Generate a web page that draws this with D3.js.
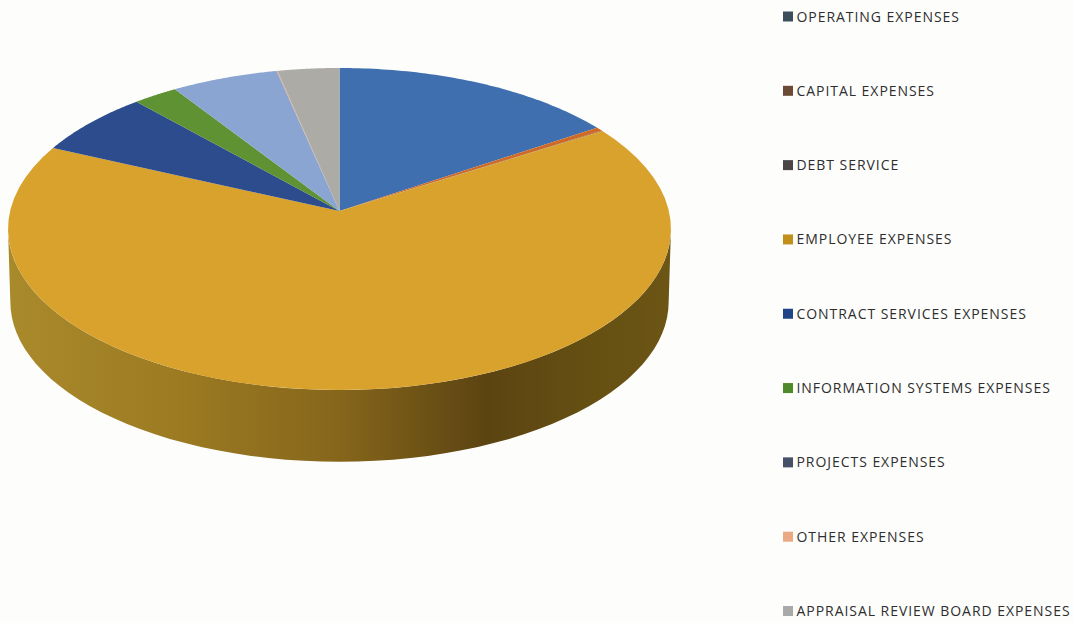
<!DOCTYPE html>
<html>
<head>
<meta charset="utf-8">
<script src="https://cdnjs.cloudflare.com/ajax/libs/d3/7.8.5/d3.min.js"></script>
<style>
  html, body { margin: 0; padding: 0; background: #fdfdfc; }
  svg { display: block; }
  text { font-family: "Open Sans", sans-serif; }
</style>
</head>
<body>
<svg id="chart" width="1073" height="623"></svg>
<script>
// Budget share of each expense category, in percent.
const categories = [
  "OPERATING EXPENSES", "CAPITAL EXPENSES", "DEBT SERVICE", "EMPLOYEE EXPENSES",
  "CONTRACT SERVICES EXPENSES", "INFORMATION SYSTEMS EXPENSES", "PROJECTS EXPENSES",
  "OTHER EXPENSES", "APPRAISAL REVIEW BOARD EXPENSES"
];
const shares = [15.6, 0.4, 0.05, 65.75, 6.56, 2.44, 5.8, 0.05, 3.35];
const sliceColors = ["#3f6fae", "#cf6a26", "#8a5a3a", "#d8a22d", "#2c4c8e", "#5f9233", "#8ba5d3", "#d9a58a", "#acaba5"];
const swatchColors = ["#3d4c5a", "#6b4b36", "#4b4546", "#c2901a", "#1f4488", "#4f8a2a", "#465068", "#eaa982", "#a9a9a9"];

const svg = d3.select("#chart");

// Tilted disc: unit-circle coordinates go through a perspective projection,
// so the hub sits above the middle of the visible ellipse.
const hubX = 339.5, hubY = 211, halfWidth = 329.4, halfDepth = 159, tilt = 0.1118, wallHeight = 73;
const project = (angle, r = 1, scale = 1, drop = 0) => {
  const u = r * Math.sin(angle), v = -r * Math.cos(angle), w = 1 / (1 - tilt * v);
  return [hubX + scale * halfWidth * u * w, hubY + drop + scale * halfDepth * v * w];
};

const pie = d3.pie().sort(null).value(d => d);
const arcs = pie(shares);
const line = d3.line();
const samples = (a, b, scale = 1, drop = 0) =>
  d3.range(0, 61).map(i => project(a + (b - a) * i / 60, 1, scale, drop));

// Side wall of the disc: only the front-facing stretch of each slice shows.
const defs = svg.append("defs");
const wallGradient = defs.append("linearGradient").attr("id", "wall")
  .attr("gradientUnits", "userSpaceOnUse").attr("x1", 8).attr("x2", 671).attr("y1", 0).attr("y2", 0);
[[0, "#a98a2b"], [0.25, "#9c7b22"], [0.5, "#86661b"], [0.72, "#5c4412"], [0.88, "#655012"], [1, "#6c5515"]]
  .forEach(([o, c]) => wallGradient.append("stop").attr("offset", o).attr("stop-color", c));

const silhouette = Math.acos(-tilt);
svg.append("g").selectAll("path")
  .data(arcs.filter(d => d.endAngle > silhouette && d.startAngle < 2 * Math.PI - silhouette))
  .join("path")
  .attr("fill", "url(#wall)")
  .attr("d", d => {
    const a = Math.max(d.startAngle, silhouette), b = Math.min(d.endAngle, 2 * Math.PI - silhouette);
    return line([...samples(a, b), ...samples(b, a, 0.993, wallHeight)]) + "Z";
  });

// Top face of the disc.
svg.append("g").selectAll("path")
  .data(arcs)
  .join("path")
  .attr("fill", (d, i) => sliceColors[i])
  .attr("d", d => line([[hubX, hubY], ...samples(d.startAngle, d.endAngle)]) + "Z");

// Legend column down the right side.
const legendY = d3.scalePoint().domain(categories).range([16.5, 611]);
const legend = svg.append("g").selectAll("g")
  .data(categories)
  .join("g")
  .attr("transform", d => `translate(783,${legendY(d)})`);
legend.append("rect")
  .attr("y", -5).attr("width", 10).attr("height", 10)
  .attr("fill", (d, i) => swatchColors[i]);
legend.append("text")
  .attr("x", 13.5).attr("dy", "0.36em")
  .attr("font-size", 14)
  .attr("letter-spacing", 0.95)
  .attr("fill", "#2e2e2e")
  .text(d => d);
</script>
</body>
</html>
